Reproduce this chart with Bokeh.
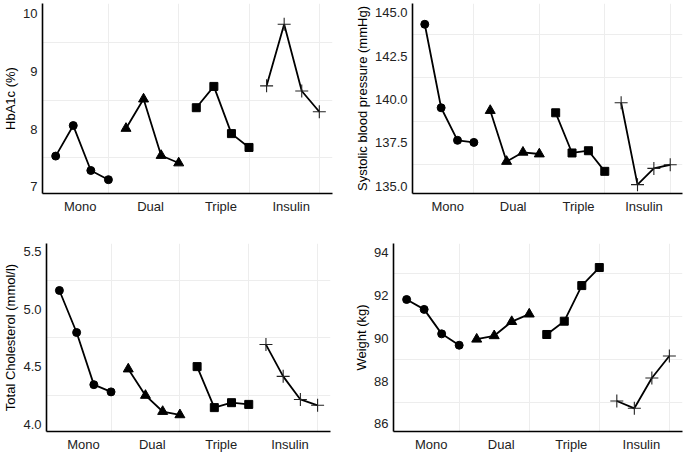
from bokeh.plotting import figure
from bokeh.layouts import column, row
from bokeh.models import Range1d, FixedTicker, PrintfTickFormatter, ColumnDataSource
from bokeh.embed import file_html
from bokeh.resources import INLINE

groups = ["Mono", "Dual", "Triple", "Insulin"]
markers = ["circle", "triangle", "square", "cross"]

hba1c = [
    [7.53, 8.06, 7.28, 7.12],
    [8.01, 8.52, 7.54, 7.41],
    [8.37, 8.74, 7.92, 7.68],
    [8.75, 9.82, 8.66, 8.30],
]
sbp = [
    [144.34, 139.52, 137.64, 137.52],
    [139.36, 136.42, 136.95, 136.85],
    [139.23, 136.91, 137.04, 135.85],
    [139.81, 135.08, 136.02, 136.23],
]
chol = [
    [5.163, 4.797, 4.343, 4.280],
    [4.479, 4.249, 4.109, 4.080],
    [4.500, 4.143, 4.186, 4.171],
    [4.692, 4.415, 4.214, 4.163],
]
weight = [
    [91.80, 91.34, 90.20, 89.67],
    [89.95, 90.11, 90.77, 91.12],
    [90.17, 90.79, 92.45, 93.29],
    [87.07, 86.73, 88.14, 89.17],
]

FONT = "Liberation Sans"


def make_panel(values, ylabel, yr, yticks, ygrid, fmt, width, height, bl, br, bt, bb):
    p = figure(width=width, height=height, output_backend="svg", toolbar_location=None,
               x_range=Range1d(0.25, 16.75), y_range=Range1d(*yr),
               min_border_left=bl, min_border_right=br, min_border_top=bt, min_border_bottom=bb)
    p.outline_line_color = None
    p.background_fill_color = "white"
    p.xgrid.ticker = FixedTicker(ticks=[4, 8, 12, 16])
    p.ygrid.ticker = FixedTicker(ticks=ygrid)
    for g in (p.xgrid, p.ygrid):
        g.grid_line_color = "#ededed"
        g.grid_line_width = 1
    centers = [4 * i + 2.4 for i in range(len(groups))]
    p.xaxis.ticker = FixedTicker(ticks=centers)
    p.xaxis.major_label_overrides = {c: g for c, g in zip(centers, groups)}
    p.yaxis.ticker = FixedTicker(ticks=yticks)
    if fmt:
        p.yaxis.formatter = PrintfTickFormatter(format=fmt)
    p.yaxis.axis_label = ylabel
    for ax in (p.xaxis, p.yaxis):
        ax.axis_line_color = "black"
        ax.axis_line_width = 1.6
        ax.major_tick_line_color = None
        ax.minor_tick_line_color = None
        ax.major_tick_out = 0
        ax.major_tick_in = 0
        ax.minor_tick_out = 0
        ax.minor_tick_in = 0
        ax.major_label_text_font = FONT
        ax.major_label_text_font_size = "13px"
        ax.major_label_text_color = "#222222"
        ax.axis_label_text_font = FONT
        ax.axis_label_text_font_size = "13px"
        ax.axis_label_text_font_style = "normal"
        ax.axis_label_text_color = "black"
        ax.axis_label_standoff = 2
    p.yaxis.major_label_standoff = 5
    p.xaxis.major_label_standoff = 5
    for gi, (vals, mk) in enumerate(zip(values, markers)):
        xs = [4 * gi + k + 1 for k in range(len(vals))]
        src = ColumnDataSource(dict(x=xs, y=vals))
        p.line("x", "y", source=src, line_color="black", line_width=1.8)
        if mk == "cross":
            p.scatter("x", "y", source=src, marker="cross", size=13,
                      line_color="#222222", line_width=1.1, fill_color=None)
        elif mk == "triangle":
            p.scatter("x", "y", source=src, marker="triangle", size=10,
                      line_color="black", fill_color="black")
        elif mk == "square":
            p.scatter("x", "y", source=src, marker="square", size=8,
                      line_color="black", fill_color="black")
        else:
            p.scatter("x", "y", source=src, marker="circle", size=8,
                      line_color="black", fill_color="black")
    return p


p1 = make_panel(hba1c, "HbA1c (%)", (6.88, 10.18), [7, 8, 9, 10], [7.5, 8.5, 9.5], None,
                340, 218, 42, 8, 3, 25)
p2 = make_panel(sbp, "Systolic blood pressure (mmHg)", (134.57, 145.54),
                [135, 137.5, 140, 142.5, 145], [136.25, 138.75, 141.25, 143.75], "%.1f",
                345, 218, 72, 3, 3, 25)
p3 = make_panel(chol, "Total Cholesterol (mmol/l)", (3.935, 5.572), [4.0, 4.5, 5.0, 5.5],
                [4.25, 4.75, 5.25], "%.1f", 340, 236, 46, 10, 25, 20)
p4 = make_panel(weight, "Weight (kg)", (85.65, 94.41), [86, 88, 90, 92, 94], [87, 89, 91, 93],
                None, 345, 236, 53, 3, 25, 20)

layout = column(row(p1, p2), row(p3, p4))
open("out.html", "w").write(file_html(layout, INLINE))
